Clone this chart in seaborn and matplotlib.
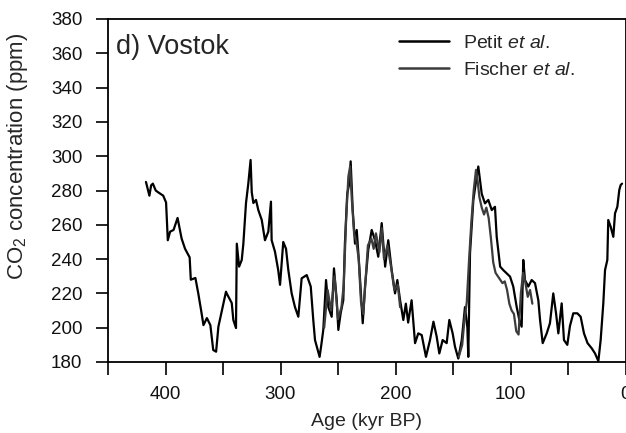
import numpy as np
import pandas as pd
import matplotlib
matplotlib.use("Agg")
import matplotlib.pyplot as plt
import seaborn as sns
from matplotlib.lines import Line2D

# ---- data ----
petit_age = [417, 415.5, 414, 412.5, 411, 408.5, 406.5, 402, 399.5, 398, 396, 393, 389.5, 386, 383,
             379, 378, 374, 371.5, 369, 367, 364, 361, 358.5, 356, 354, 351, 347.4, 346.8, 342.4,
             341, 338.7, 338, 336, 333.7, 332.3, 330, 328, 326, 325, 323.6, 321.3, 319.3, 316.3,
             313.5, 310.6, 308.3, 307.7, 304.8, 302, 300.4, 297.6, 295.2, 293.2, 290.3, 287.4,
             284.5, 281.6, 277.2, 273.7, 271.5, 270, 266, 264.5, 262.8, 260.4, 258.4, 255.5,
             253.5, 251.1, 249.7, 247.7, 245.4, 244, 242, 240.2, 239, 237.2, 235.2, 233.7, 231.5,
             228.5, 226.5, 223.7, 220.7, 217.8, 215, 212, 209, 206.3, 203.3, 200.4, 198.4, 196,
             193.2, 191, 189, 186, 183, 180.2, 177.2, 173.5, 170, 167, 164.2, 161.9, 159, 155.5,
             153.2, 150.3, 148.3, 145.4, 142.4, 139.6, 137.5, 136.7, 135.2, 132.3, 129.4, 128,
             125, 122.2, 119.3, 116.3, 113.5, 112, 109, 106.3, 103.3, 100.4, 97.6, 94.6, 92.3,
             90.3, 88.9, 87.4, 84.5, 81.6, 78.7, 75.8, 74.3, 72, 68.5, 65.7, 62.8, 60.4, 58.4,
             55.5, 53.5, 50.6, 48.3, 45.4, 41.9, 39, 36.1, 33, 29.4, 26.5, 23.6, 21.6, 19.3,
             17.8, 15.8, 15, 12.9, 10.6, 9.1, 7.1, 5.4, 4.2, 3]
petit_co2 = [285, 281, 277, 283, 284, 280, 279, 277, 273, 251, 256, 257, 264, 252, 246,
             241, 228, 229, 220, 210, 201.5, 205.6, 201.5, 187, 186, 200.6, 210, 221, 220, 214.4,
             204.5, 199.8, 249, 235.6, 239.5, 249, 272.7, 284, 297.8, 279, 272.7, 274.5, 268.6, 262.8,
             251, 256, 273.5, 251, 244.3, 233.6, 225, 250, 246, 233.6, 220, 212,
             206.4, 228.8, 230.7, 224, 204.5, 192.8, 183, 190, 198.7, 227.8, 212, 206.4,
             234.6, 216, 198.7, 208.4, 216, 249, 278, 284, 297, 268.6, 249, 257, 235.6,
             202.6, 224, 245.3, 257, 251, 241.4, 261, 235.6, 251, 233.6, 220, 227.8, 216,
             204.5, 214, 203, 216, 191, 196.7, 195.7, 183, 192.8, 203.5, 194.8, 185, 192.8, 191,
             204.5, 196.7, 189, 182, 192.8, 212, 200, 183, 243.4, 274.5, 288, 294,
             278, 272.5, 274.5, 268.6, 270.5, 253, 235.6, 233.6, 231.7, 229.8, 224, 212, 204.5,
             200.6, 239.5, 227.8, 224, 227.8, 226, 216, 204.5, 191, 196.7, 202.6, 220, 208.4, 196.7,
             214.2, 192.8, 190, 201, 208.4, 208.4, 206.4, 196.7, 191, 188, 185, 180.5, 192.8, 214.2,
             233.6, 239.5, 262.8, 258.9, 253, 266.7, 270.5, 280.3, 283.2, 284]

fischer_age_a = [262, 259, 256, 253, 250, 247, 245, 243, 241, 239.5, 238, 236, 234, 232, 230, 228,
                 226, 224, 221, 219, 217, 214, 212, 210, 207, 204, 201, 198, 196]
fischer_co2_a = [200, 222, 210, 230, 205, 212, 225, 262, 288, 294, 275, 255, 250, 240, 215, 208,
                 228, 248, 252, 246, 255, 244, 258, 240, 248, 236, 222, 225, 212]
fischer_age_b = [145, 142, 140, 138, 136, 134, 132, 130, 128.5, 127, 125, 123, 121, 119, 117, 115,
                 113, 111, 109, 107, 105, 103, 101, 99, 97, 95, 93, 91, 89, 87, 85, 83, 81]
fischer_co2_b = [183, 190, 205, 215, 240, 262, 280, 292, 285, 276, 270, 266, 270, 264, 252, 238,
                 232, 230, 228, 226, 227, 222, 214, 210, 208, 198, 196, 220, 232, 226, 218, 222, 214]

sources = ["Petit et al.", "Fischer et al."]
labels = [r"Petit $\it{et\ al.}$", r"Fischer $\it{et\ al.}$"]
colors = ["#000000", "#3c3c3c"]
y_ticks = list(range(180, 381, 20))
x_major = [400, 300, 200, 100, 0]
x_minor = [450, 350, 250, 150, 50]

df = pd.concat([
    pd.DataFrame({"age": petit_age, "co2": petit_co2, "source": sources[0], "seg": 0}),
    pd.DataFrame({"age": fischer_age_a, "co2": fischer_co2_a, "source": sources[1], "seg": 1}),
    pd.DataFrame({"age": fischer_age_b, "co2": fischer_co2_b, "source": sources[1], "seg": 2}),
], ignore_index=True)

sns.set_theme(style="ticks")
plt.rcParams["font.family"] = ["Liberation Sans", "DejaVu Sans"]
plt.rcParams["mathtext.fontset"] = "custom"
plt.rcParams["mathtext.rm"] = "Liberation Sans"
plt.rcParams["mathtext.it"] = "Liberation Sans:italic"

W, H = 626, 433
fig = plt.figure(figsize=(W / 100, H / 100), dpi=100)
ax = fig.add_axes([108 / W, 1 - 362 / H, (625.5 - 108) / W, (362 - 19) / H])

sns.lineplot(data=df, x="age", y="co2", hue="source", units="seg", estimator=None, sort=False,
             palette=dict(zip(sources, colors)), linewidth=1.6, legend=False, ax=ax)

ax.set_xlim(450, 0)
ax.set_ylim(180, 380)
ax.set_yticks(y_ticks)
ax.set_xticks(x_major)
ax.set_xticks(x_minor, minor=True)
ax.tick_params(axis="both", which="both", direction="out", length=9, width=1.2,
               labelsize=13.5, color="black", labelcolor="#111111")
ax.tick_params(axis="y", pad=9.5)
ax.tick_params(axis="x", pad=8)
for s in ax.spines.values():
    s.set_linewidth(1.3)
    s.set_color("black")

ax.set_xlabel("Age (kyr BP)", fontsize=14)
ax.set_ylabel(r"CO$_2$ concentration (ppm)", fontsize=16)
ax.xaxis.set_label_coords(0.5, -0.148)
ax.yaxis.set_label_coords(-0.15, 0.60)

ax.text(0.015, 0.955, "d) Vostok", transform=ax.transAxes, fontsize=19.5, va="top", ha="left")

handles = [Line2D([], [], color=c, lw=1.8) for c in colors]
ax.legend(handles, labels, loc="upper left", bbox_to_anchor=(0.562, 0.956), frameon=False,
          fontsize=14, handlelength=2.6, handletextpad=0.7, labelspacing=0.5,
          borderpad=0, borderaxespad=0)

fig.savefig("out.png", dpi=100)
